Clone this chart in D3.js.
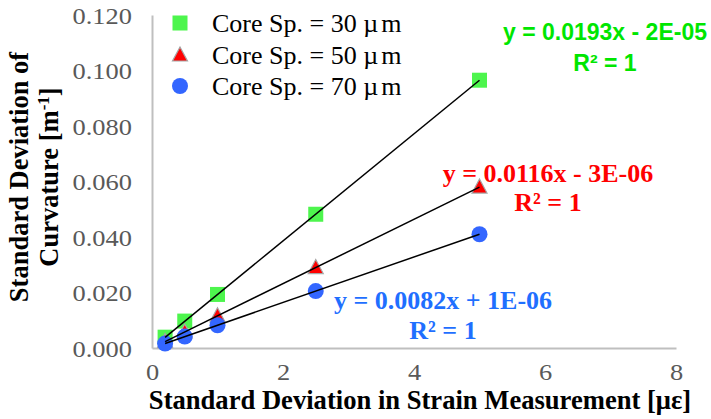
<!DOCTYPE html>
<html>
<head>
<meta charset="utf-8">
<script src="https://cdn.jsdelivr.net/npm/d3@7"></script>
<style>
  html, body { margin: 0; padding: 0; background: #fff; }
  svg { display: block; }
</style>
</head>
<body>
<svg id="chart" width="711" height="419"></svg>
<script>
// Measured standard deviations
const strain = [0.2, 0.5, 1, 2.5, 5];
const curv30 = [0.0039, 0.0097, 0.0193, 0.0482, 0.0965];
const curv50 = [0.0023, 0.0058, 0.0116, 0.0290, 0.0580];
const curv70 = [0.0016, 0.0041, 0.0082, 0.0205, 0.0410];

const seriesNames = ["Core Sp. = 30 ", "Core Sp. = 50 ", "Core Sp. = 70 "];
// Linear fits (slope, intercept) shown as trendline equations
const fitSlopes = [0.0193, 0.0116, 0.0082];
const fitIntercepts = [-0.00002, -0.000003, 0.000001];
const fitLabels = ["y = 0.0193x - 2E-05", "y = 0.0116x - 3E-06", "y = 0.0082x + 1E-06"];

const xTicks = [0, 2, 4, 6, 8];
const yTicks = [0, 0.02, 0.04, 0.06, 0.08, 0.10, 0.12];

const svg = d3.select("#chart");
const x = d3.scaleLinear().domain([0, 8]).range([152, 676]);
const y = d3.scaleLinear().domain([0, 0.12]).range([348, 15]);

const axisColor = "#BFBFBF";
const tickColor = "#595959";
const serif = "'Liberation Serif', 'Times New Roman', serif";
const sans = "'Liberation Sans', Arial, sans-serif";
const tickStretch = 1.15;

// Axes
const yAxis = svg.append("g").attr("transform", `translate(${x(0)},0)`)
  .call(d3.axisLeft(y).tickValues(yTicks).tickFormat(d3.format(".3f")).tickSize(0));
const xAxis = svg.append("g").attr("transform", `translate(0,${y(0)})`)
  .call(d3.axisBottom(x).tickValues(xTicks).tickFormat(d3.format("d")).tickSize(0));
[yAxis, xAxis].forEach(g => {
  g.select(".domain").attr("stroke", axisColor).attr("stroke-width", 2);
  g.selectAll("text").attr("fill", tickColor)
    .style("font-family", serif).style("font-size", "23px")
    .attr("transform", `scale(${tickStretch},1)`);
});
yAxis.selectAll("text").attr("x", -20 / tickStretch).attr("dy", "0.35em");
xAxis.selectAll("text").attr("y", 32).attr("dy", "0");

// Axis titles
svg.append("text")
  .attr("x", 420).attr("y", 409)
  .attr("text-anchor", "middle")
  .style("font-family", serif).style("font-size", "26.6px").style("font-weight", "bold")
  .text("Standard Deviation in Strain Measurement [\u03bc\u03b5]");

const yTitle = svg.append("text")
  .attr("transform", "translate(0,177) rotate(-90)")
  .attr("text-anchor", "middle")
  .style("font-family", serif).style("font-size", "26.5px").style("font-weight", "bold");
yTitle.append("tspan").attr("x", 0).attr("y", 28).text("Standard Deviation of");
const l2 = yTitle.append("tspan").attr("x", 0).attr("y", 58);
l2.append("tspan").text("Curvature [m");
l2.append("tspan").attr("dy", -9).style("font-size", "17px").text("-1");
l2.append("tspan").attr("dy", 9).text("]");

// Marker painters
const green = "#4DF54D", red = "#FF0000", blue = "#3366FF";
function drawSquare(g, cx, cy) {
  g.append("rect").attr("x", cx - 7.5).attr("y", cy - 7.5).attr("width", 15).attr("height", 15).attr("fill", green);
}
function drawTriangle(g, cx, cy) {
  g.append("path")
    .attr("d", `M${cx},${cy - 8} L${cx + 7.5},${cy + 6} L${cx - 7.5},${cy + 6} Z`)
    .attr("fill", red).attr("stroke", "#A6A6A6").attr("stroke-width", 1.2);
}
function drawCircle(g, cx, cy) {
  g.append("circle").attr("cx", cx).attr("cy", cy).attr("r", 8).attr("fill", blue);
}
const painters = [drawSquare, drawTriangle, drawCircle];
const seriesData = [curv30, curv50, curv70];

const marks = svg.append("g");
seriesData.forEach((vals, i) => {
  vals.forEach((v, j) => painters[i](marks, x(strain[j]), y(v)));
});

// Trendlines over the markers
const xMin = d3.min(strain), xMax = d3.max(strain);
fitSlopes.forEach((m, i) => {
  svg.append("line")
    .attr("x1", x(xMin)).attr("y1", y(m * xMin + fitIntercepts[i]))
    .attr("x2", x(xMax)).attr("y2", y(m * xMax + fitIntercepts[i]))
    .attr("stroke", "#000").attr("stroke-width", 1.5);
});

// Legend
const legendRows = [23, 55, 86];
seriesNames.forEach((name, i) => {
  painters[i](svg, 180, legendRows[i]);
  const t = svg.append("text").attr("x", 212).attr("y", legendRows[i]).attr("dy", "0.35em")
    .style("font-family", serif).style("font-size", "26px").attr("fill", "#000");
  t.append("tspan").text(name + "\u00b5");
  t.append("tspan").attr("dx", 3).text("m");
});

// Trendline equations
const eqStyle = [
  { cx: 605, cy: 32, gap: 31, color: "#00E600", font: sans, size: 23 },
  { cx: 548, cy: 173, gap: 29, color: "#FF0000", font: serif, size: 26 },
  { cx: 443, cy: 300, gap: 30, color: "#1F6FFF", font: serif, size: 26 }
];
eqStyle.forEach((s, i) => {
  const t = svg.append("text").attr("text-anchor", "middle").attr("fill", s.color)
    .style("font-family", s.font).style("font-size", s.size + "px").style("font-weight", "bold");
  t.append("tspan").attr("x", s.cx).attr("y", s.cy).attr("dy", "0.35em").text(fitLabels[i]);
  t.append("tspan").attr("x", s.cx).attr("y", s.cy + s.gap).attr("dy", "0.35em").text("R\u00b2 = 1");
});
</script>
</body>
</html>
